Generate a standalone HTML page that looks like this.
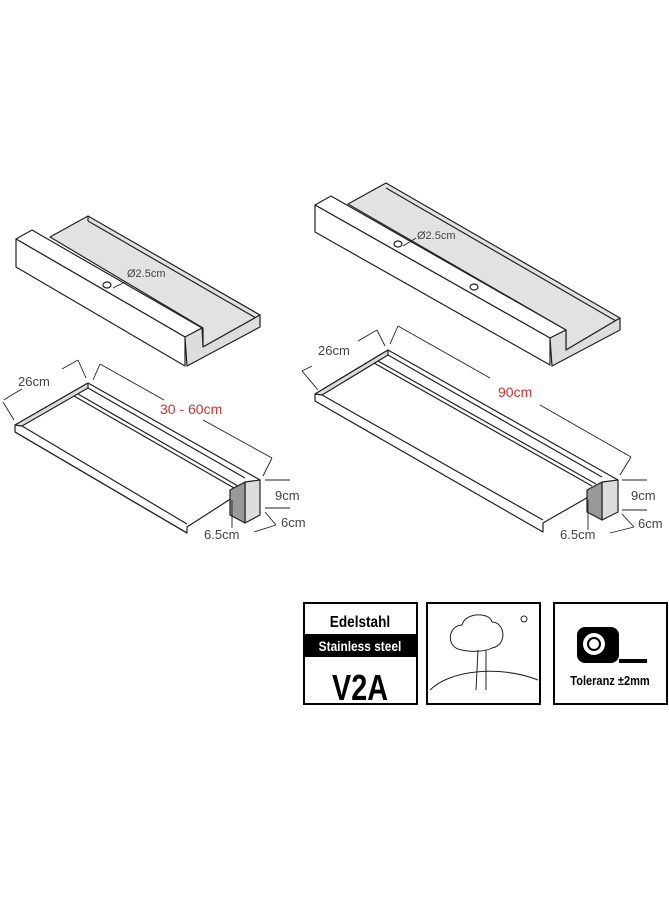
<!DOCTYPE html>
<html><head><style>
body{margin:0;background:#fff;}
svg{display:block}
text{font-family:"Liberation Sans",sans-serif;}
</style></head><body>
<svg width="669" height="900" viewBox="0 0 669 900" xmlns="http://www.w3.org/2000/svg">
<g stroke="#222" stroke-width="1.2" stroke-linejoin="round" fill="#fff">
<!-- LEFT TOP PIECE -->
<polygon points="50,237 88,216 260,315 203,347 203,328" fill="#e2e2e2"/>
<line x1="88" y1="216" x2="88" y2="221"/>
<line x1="88" y1="221" x2="256" y2="318"/>
<polygon points="16,239 32,230 202,328 185,337"/>
<polygon points="16,239 185,337 185,366 16,267"/>
<polygon points="185,337 202,328 203,347 260,315 260,327 187,366" fill="#ddd"/>
<ellipse cx="107" cy="285" rx="4" ry="3"/>
<line x1="113" y1="288" x2="125" y2="282" stroke-width="0.8"/>
<!-- RIGHT TOP PIECE -->
<polygon points="348,204 386,183 620,318 566,350 566,330" fill="#e2e2e2"/>
<line x1="386" y1="188" x2="616" y2="321"/>
<polygon points="315,205 331,196 566,330 550,338"/>
<polygon points="315,205 550,338 550,365 315,232"/>
<polygon points="550,338 566,330 566,350 620,318 620,330 552,366" fill="#ddd"/>
<ellipse cx="398" cy="244" rx="4" ry="3"/>
<ellipse cx="474" cy="287" rx="4" ry="3"/>
<line x1="403" y1="246" x2="416" y2="238" stroke-width="0.8"/>
<!-- LEFT TRAY -->
<polygon points="15,425 88,383 260,480 187,527 187,533 15,432" />
<polygon points="15,425 88,383 88,388 22,426" fill="#ddd"/>
<line x1="22" y1="426" x2="187" y2="524"/>
<line x1="88" y1="388" x2="245" y2="478"/>
<line x1="78" y1="394" x2="238" y2="486"/>
<line x1="74" y1="396" x2="234" y2="488"/>
<line x1="15" y1="432" x2="187" y2="533"/>
<polygon points="245,482 260,480 260,515 245,523" fill="#ddd"/>
<polygon points="230,490 245,482 245,523 230,515" fill="#999"/>
<!-- RIGHT TRAY -->
<polygon points="315,394 388,350 618,480 543,523 543,532 315,401" />
<polygon points="315,394 388,350 388,355 322,395" fill="#ddd"/>
<line x1="322" y1="395" x2="543" y2="520"/>
<line x1="388" y1="355" x2="602" y2="477"/>
<line x1="378" y1="361" x2="596" y2="484"/>
<line x1="374" y1="363" x2="592" y2="486"/>
<polygon points="602,482 618,480 618,512 602,520" fill="#ddd"/>
<polygon points="587,490 602,482 602,520 587,512" fill="#999"/>
</g>
<!-- dimension lines -->
<g stroke="#222" stroke-width="0.9" fill="none">
<polyline points="4,400 10,396"/><polyline points="3,402 14,420"/>
<line x1="10" y1="396" x2="22" y2="389"/><line x1="62" y1="369" x2="78" y2="360"/>
<line x1="78" y1="360" x2="86" y2="378"/><line x1="100" y1="364" x2="93" y2="380"/>
<line x1="100" y1="364" x2="164" y2="400"/><line x1="203" y1="420" x2="272" y2="458"/>
<line x1="272" y1="458" x2="263" y2="476"/>
<line x1="265" y1="480" x2="290" y2="480"/><line x1="265" y1="508" x2="290" y2="508"/>
<line x1="265" y1="512" x2="276" y2="525"/><line x1="254" y1="532" x2="276" y2="525"/>
<line x1="232" y1="528" x2="232" y2="500"/>
<line x1="302" y1="371" x2="318" y2="390"/><line x1="302" y1="371" x2="312" y2="366"/>
<line x1="358" y1="341" x2="377" y2="330"/><line x1="377" y1="330" x2="385" y2="346"/>
<line x1="398" y1="326" x2="390" y2="344"/><line x1="398" y1="326" x2="490" y2="378"/>
<line x1="540" y1="405" x2="631" y2="457"/><line x1="631" y1="457" x2="620" y2="475"/>
<line x1="622" y1="480" x2="647" y2="480"/><line x1="622" y1="510" x2="647" y2="510"/>
<line x1="622" y1="514" x2="634" y2="527"/><line x1="610" y1="533" x2="634" y2="527"/>
<line x1="588" y1="530" x2="588" y2="500"/>
</g>
<g font-size="13" fill="#444">
<text x="18" y="386">26cm</text>
<text x="160" y="414" fill="#c33" font-size="14">30 - 60cm</text>
<text x="275" y="500">9cm</text>
<text x="281" y="527">6cm</text>
<text x="204" y="539">6.5cm</text>
<text x="127" y="277" font-size="11">Ø2.5cm</text>
<text x="318" y="355">26cm</text>
<text x="498" y="397" fill="#c33" font-size="14">90cm</text>
<text x="631" y="500">9cm</text>
<text x="638" y="528">6cm</text>
<text x="560" y="539">6.5cm</text>
<text x="417" y="239" font-size="11">Ø2.5cm</text>
</g>
<!-- icons -->
<rect x="304" y="603" width="113" height="101" fill="#fff" stroke="#000" stroke-width="2"/>
<text x="360" y="627" font-size="16" font-weight="bold" text-anchor="middle" transform="translate(360 0) scale(0.85 1) translate(-360 0)">Edelstahl</text>
<rect x="304" y="634" width="113" height="23" fill="#000"/>
<text x="360" y="651" font-size="14" font-weight="bold" fill="#fff" text-anchor="middle" transform="translate(360 0) scale(0.85 1) translate(-360 0)">Stainless steel</text>
<text x="360" y="700" font-size="36" font-weight="bold" text-anchor="middle" transform="translate(360 0) scale(0.8 1) translate(-360 0)">V2A</text>
<rect x="427" y="603" width="113" height="101" fill="#fff" stroke="#000" stroke-width="2"/>
<g stroke="#222" fill="none" stroke-width="1">
<path d="M462,650 C445,648 448,625 462,625 C465,612 490,612 492,622 C505,622 508,645 492,648 C485,652 470,652 462,650Z"/>
<path d="M478,650 L476,690 M486,650 L486,690"/>
<path d="M430,690 C450,670 500,665 538,680"/>
<circle cx="524" cy="619" r="3"/>
</g>
<rect x="554" y="603" width="113" height="101" fill="#fff" stroke="#000" stroke-width="2"/>
<rect x="577" y="627" width="42" height="36" rx="8" fill="#000"/>
<circle cx="594" cy="644" r="11" fill="#fff"/>
<circle cx="594" cy="644" r="7" fill="#000"/>
<circle cx="594" cy="644" r="5" fill="#fff"/>
<rect x="619" y="659" width="28" height="4" fill="#000"/>
<text x="610" y="685" font-size="13" font-weight="bold" text-anchor="middle" transform="translate(610 0) scale(0.85 1) translate(-610 0)">Toleranz ±2mm</text>
</svg>
</body></html>
